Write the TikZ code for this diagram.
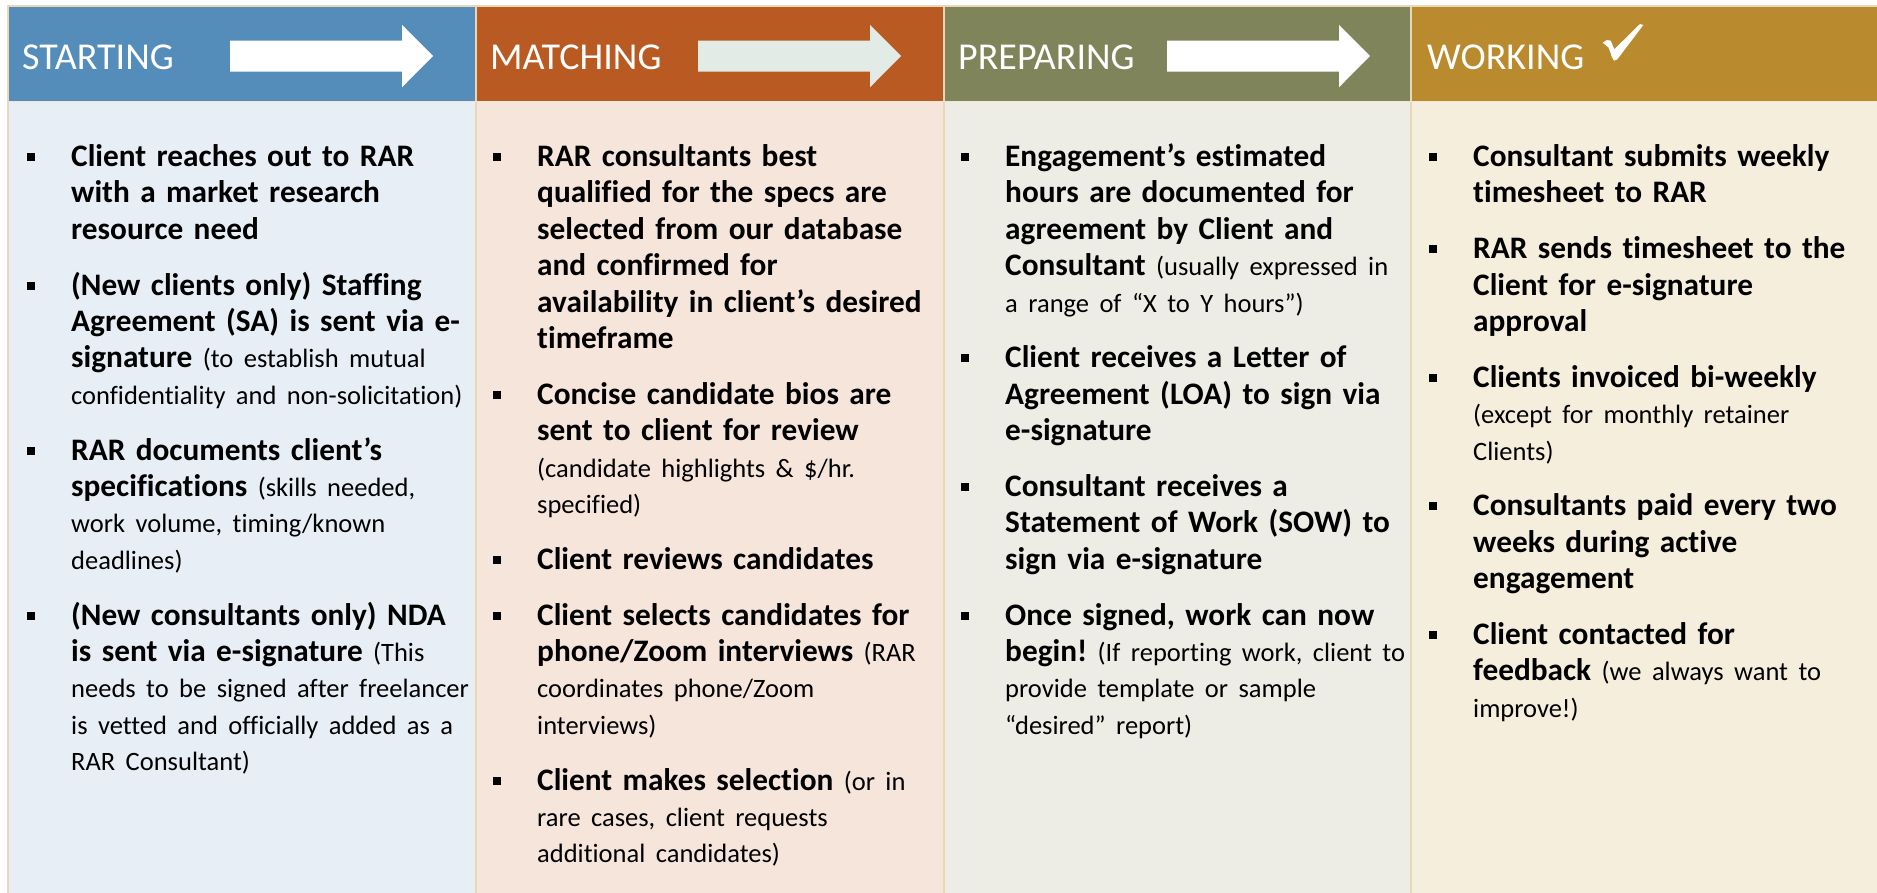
\documentclass[tikz,border=0pt]{standalone}
\usepackage{fontspec}
\setmainfont{Carlito}[Ligatures={NoCommon,NoRare}]

% header and body colours of the four stages
\definecolor{hdrA}{HTML}{548CBA}
\definecolor{hdrB}{HTML}{B85A22}
\definecolor{hdrC}{HTML}{7F845A}
\definecolor{hdrD}{HTML}{B98B2E}
\definecolor{bodyA}{HTML}{E8EEF5}
\definecolor{bodyB}{HTML}{F6E5DA}
\definecolor{bodyC}{HTML}{EDEDE6}
\definecolor{bodyD}{HTML}{F5EEDD}
\definecolor{arrowB}{HTML}{E3EBE7}
\definecolor{seamc}{HTML}{E8D8B8}
\definecolor{splitc}{HTML}{EFE6D6}

% lighter, smaller text for the remarks in brackets
\newcommand\smalltxt[1]{{\mdseries\fontsize{26.5}{36.45}\selectfont #1}}

% one bullet: name, text x, lines above, bullet gaps above, text
\newcommand\bitem[5]{%
  \fill[black] (#2-44,{166.5+#3*36.45+#4*19.2-13.5}) rectangle (#2-36,{166.5+#3*36.45+#4*19.2-5.5});
  \node[itemtxt] (#1) at (#2,{166.5+#3*36.45+#4*19.2}) {#5};
}

\begin{document}
\frenchspacing
\begin{tikzpicture}[x=1pt,y=-1pt,
  hdrtxt/.style={anchor=base west, inner sep=0pt, text=white,
    font=\fontsize{38}{42}\selectfont},
  itemtxt/.style={anchor=base west, inner sep=0pt, text width=440pt,
    font=\fontsize{31.3}{36.45}\selectfont\bfseries\frenchspacing},
  seam/.style={draw=seamc, line width=2pt},
]
\useasboundingbox (0,0) rectangle (1877,893);
\fill[white] (0,0) rectangle (1877,893);

% header band
\fill[hdrA] (8.5,7) rectangle (475,101.5);
\fill[hdrB] (475,7) rectangle (944,101.5);
\fill[hdrC] (944,7) rectangle (1411,101.5);
\fill[hdrD] (1411,7) rectangle (1877,101.5);

% column bodies
\fill[bodyA] (8.5,101.5) rectangle (475,893);
\fill[bodyB] (475,101.5) rectangle (944,893);
\fill[bodyC] (944,101.5) rectangle (1411,893);
\fill[bodyD] (1411,101.5) rectangle (1877,893);

% frame and seams
\draw[seam] (7,6) -- (1877,6);
\draw[seam] (7.5,6) -- (7.5,893);
\draw[seam] (475.5,7) -- (475.5,893);
\draw[seam] (944,7) -- (944,893);
\draw[seam] (1411,7) -- (1411,893);
\draw[splitc, line width=1pt] (8.5,101.5) -- (1877,101.5);

% header arrows
\fill[white] (230,40.7) -- (402,40.7) -- (402,25) -- (433,56) -- (402,87.3) -- (402,71.7) -- (230,71.7) -- cycle;
\fill[arrowB] (698,40.7) -- (870,40.7) -- (870,25) -- (901,56) -- (870,87.3) -- (870,71.7) -- (698,71.7) -- cycle;
\fill[white] (1167,40.7) -- (1339,40.7) -- (1339,25) -- (1370,56) -- (1339,87.3) -- (1339,71.7) -- (1167,71.7) -- cycle;

% check mark after WORKING
\fill[white] (1602.7,42.7) .. controls (1605,40.5) .. (1607,40) -- (1610.7,40.7)
  -- (1614.3,49.3) -- (1640,24) -- (1643.3,25) -- (1617.3,59.3) -- (1614,60.7)
  -- (1611.7,56.7) .. controls (1610,51) .. (1608.3,47.3) -- cycle;

% header labels
\node[hdrtxt] (hstart) at (22,70) {STARTING};
\node[hdrtxt] (hmatch) at (490,70) {MATCHING};
\node[hdrtxt] (hprep)  at (958,70) {PREPARING};
\node[hdrtxt] (hwork)  at (1427,70) {WORKING};

% STARTING
\bitem{sa}{71}{0}{0}{Client reaches out to RAR\\with a market research\\resource need}
\bitem{sb}{71}{3}{1}{(New clients only) Staffing\\Agreement (SA) is sent via e-\\signature \smalltxt{(to establish mutual\\confidentiality and non-solicitation)}}
\bitem{sc}{71}{7}{2}{RAR documents client’s\\specifications \smalltxt{(skills needed,\\work volume, timing/known\\deadlines)}}
\bitem{sd}{71}{11}{3}{(New consultants only) NDA\\is sent via e-signature \smalltxt{(This\\needs to be signed after freelancer\\is vetted and officially added as a\\RAR Consultant)}}

% MATCHING
\bitem{ma}{537}{0}{0}{RAR consultants best\\qualified for the specs are\\selected from our database\\and confirmed for\\availability in client’s desired\\timeframe}
\bitem{mb}{537}{6}{1}{Concise candidate bios are\\sent to client for review\\\smalltxt{(candidate highlights \& \$/hr.\\specified)}}
\bitem{mc}{537}{10}{2}{Client reviews candidates}
\bitem{md}{537}{11}{3}{Client selects candidates for\\phone/Zoom interviews \smalltxt{(RAR\\coordinates phone/Zoom\\interviews)}}
\bitem{me}{537}{15}{4}{Client makes selection \smalltxt{(or in\\rare cases, client requests\\additional candidates)}}

% PREPARING
\bitem{pa}{1005}{0}{0}{Engagement’s estimated\\hours are documented for\\agreement by Client and\\Consultant \smalltxt{(usually expressed in\\a range of “X to Y hours”)}}
\bitem{pb}{1005}{5}{1}{Client receives a Letter of\\Agreement (LOA) to sign via\\e-signature}
\bitem{pc}{1005}{8}{2}{Consultant receives a\\Statement of Work (SOW) to\\sign via e-signature}
\bitem{pd}{1005}{11}{3}{Once signed, work can now\\begin! \smalltxt{(If reporting work, client to\\provide template or sample\\“desired” report)}}

% WORKING
\bitem{wa}{1473}{0}{0}{Consultant submits weekly\\timesheet to RAR}
\bitem{wb}{1473}{2}{1}{RAR sends timesheet to the\\Client for e-signature\\approval}
\bitem{wc}{1473}{5}{2}{Clients invoiced bi-weekly\\\smalltxt{(except for monthly retainer\\Clients)}}
\bitem{wd}{1473}{8}{3}{Consultants paid every two\\weeks during active\\engagement}
\bitem{we}{1473}{11}{4}{Client contacted for\\feedback \smalltxt{(we always want to\\improve!)}}
\end{tikzpicture}
\end{document}
